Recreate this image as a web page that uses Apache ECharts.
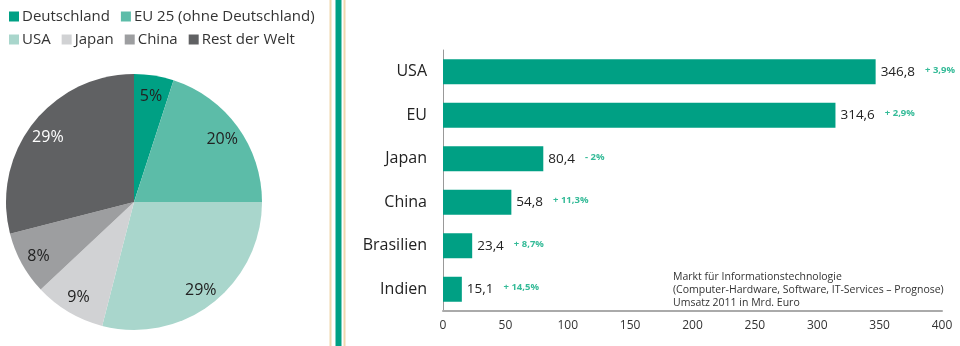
<!DOCTYPE html>
<html><head><meta charset="utf-8">
<script src="https://cdn.jsdelivr.net/npm/echarts@6/dist/echarts.min.js"></script>
<style>html,body{margin:0;padding:0;background:#fff}#c{width:960px;height:346px}</style>
</head><body><div id="c"></div>
<script>
const pieNames = ['Deutschland', 'EU 25 (ohne Deutschland)', 'USA', 'Japan', 'China', 'Rest der Welt'];
const pieValues = [5, 20, 29, 9, 8, 29];
const pieColors = ['#00a084', '#5cbca8', '#a9d6cc', '#d1d2d4', '#9d9ea0', '#606163'];

const barCategories = ['USA', 'EU', 'Japan', 'China', 'Brasilien', 'Indien'];
const barValues = [346.8, 314.6, 80.4, 54.8, 23.4, 15.1];
const barGrowth = ['+ 3,9%', '+ 2,9%', '- 2%', '+ 11,3%', '+ 8,7%', '+ 14,5%'];
const xTicks = [0, 50, 100, 150, 200, 250, 300, 350, 400];

const noteLines = ['Markt für Informationstechnologie', '(Computer-Hardware, Software, IT-Services – Prognose)', 'Umsatz 2011 in Mrd. Euro'];

const FONT = '"Open Sans", "Noto Sans", sans-serif';
const chart = echarts.init(document.getElementById('c'));

const pieData = pieNames.map((n, i) => ({
  name: n, value: pieValues[i],
  itemStyle: { color: pieColors[i] },
  label: { color: i === 5 ? '#ffffff' : '#222222' }
}));
const overlayData = pieNames.map((n, i) => ({
  name: n, value: pieValues[i],
  itemStyle: { color: 'rgba(0,0,0,0)' },
  label: { color: i === 5 ? '#ffffff' : '#222222' }
}));

chart.setOption({
  animation: false,
  textStyle: { fontFamily: FONT },
  legend: [
    { left: 4, top: 4, itemWidth: 10, itemHeight: 10, itemGap: 11, icon: 'rect', selectedMode: false,
      data: pieNames.slice(0, 2), textStyle: { fontSize: 15, color: '#333', fontFamily: FONT, padding: [0, 0, 0, -2] } },
    { left: 4, top: 27, itemWidth: 10, itemHeight: 10, itemGap: 11, icon: 'rect', selectedMode: false,
      data: pieNames.slice(2), textStyle: { fontSize: 15, color: '#333', fontFamily: FONT, padding: [0, 0, 0, -2] } }
  ],
  grid: { left: 443, right: 18, top: 50, bottom: 35, containLabel: false },
  xAxis: {
    type: 'value', min: xTicks[0], max: xTicks[xTicks.length - 1], interval: 50,
    axisLine: { show: true, lineStyle: { color: '#aaaaaa', width: 2 } },
    axisTick: { show: false }, splitLine: { show: false },
    axisLabel: { color: '#333', fontSize: 12, margin: 9, fontFamily: FONT }
  },
  yAxis: {
    type: 'category', data: barCategories, inverse: true,
    axisLine: { show: true, lineStyle: { color: '#999999', width: 1 } },
    axisTick: { show: false },
    axisLabel: { color: '#222', fontSize: 16, margin: 16, fontFamily: FONT }
  },
  series: [
    {
      type: 'pie', radius: [0, 128], center: [134, 202], startAngle: 90, clockwise: true,
      data: pieData, label: { show: false }, labelLine: { show: false }, silent: true
    },
    {
      type: 'pie', radius: [84, 128], center: [134, 204], startAngle: 90, clockwise: true,
      data: overlayData, silent: true, labelLine: { show: false },
      label: { show: true, position: 'inside', formatter: '{c}%', fontSize: 16, fontFamily: FONT }
    },
    {
      type: 'bar', data: barValues, barWidth: 25,
      itemStyle: { color: '#00a084' },
      label: {
        show: true, position: 'right', distance: 5,
        formatter: p => '{v|' + p.value.toFixed(1).replace('.', ',') + '}{g|' + barGrowth[p.dataIndex] + '}',
        rich: {
          v: { fontSize: 13.5, color: '#222', fontFamily: FONT },
          g: { fontSize: 9.5, color: '#35bb98', fontWeight: 'bold', fontFamily: FONT, padding: [0, 0, 3, 10] }
        }
      }
    }
  ],
  graphic: [
    { type: 'rect', shape: { x: 329.5, y: 0, width: 2, height: 346 }, style: { fill: '#f0d8ad' } },
    { type: 'rect', shape: { x: 335.5, y: 0, width: 6, height: 346 }, style: { fill: '#00a084' } },
    { type: 'rect', shape: { x: 343.5, y: 0, width: 2, height: 346 }, style: { fill: '#f0d8ad' } },
    { type: 'text', left: 673, top: 271,
      style: { text: noteLines.join('\n'), fontSize: 10.5, lineHeight: 13, fill: '#333', fontFamily: FONT } }
  ]
});
</script></body></html>
